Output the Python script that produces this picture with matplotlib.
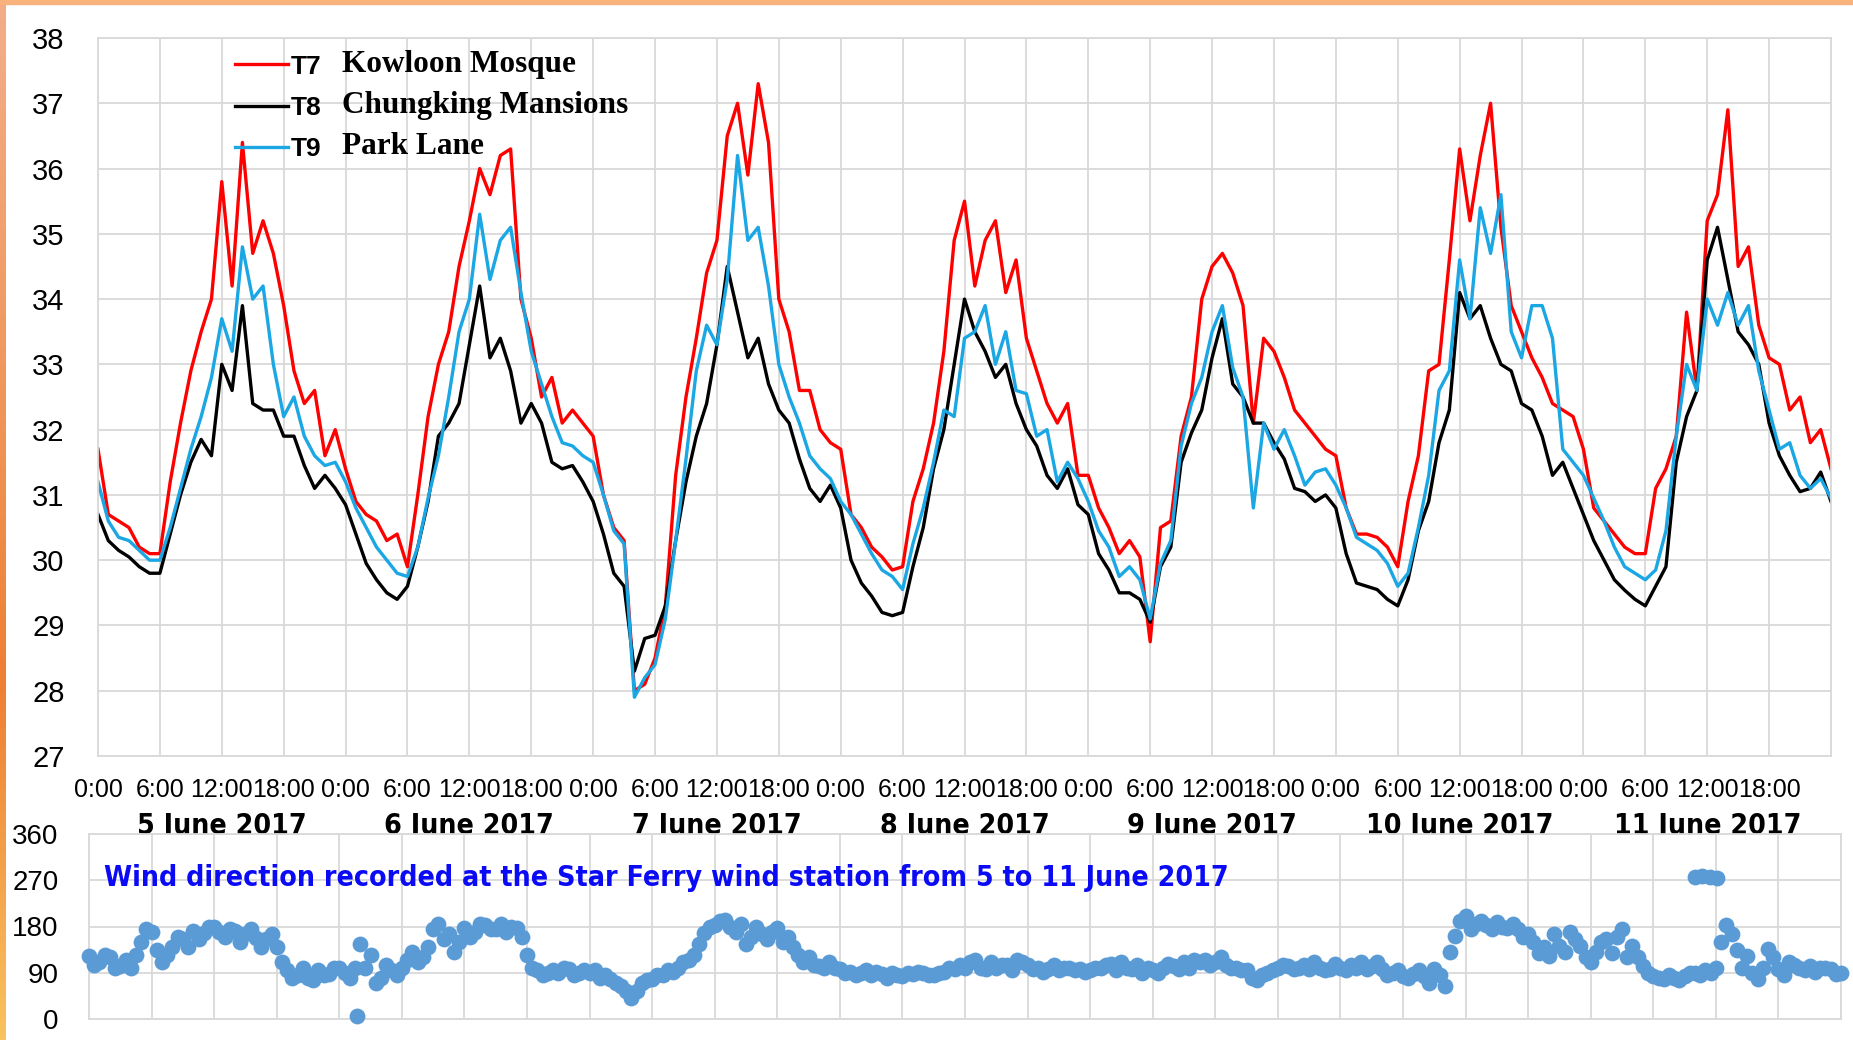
import numpy as np
import matplotlib
matplotlib.use('Agg')
import matplotlib.pyplot as plt
from matplotlib.colors import LinearSegmentedColormap
from matplotlib.transforms import blended_transform_factory

# hourly temperature readings, 5 June 0:00 .. 12 June 0:00
t7 = [31.7, 30.7, 30.6, 30.5, 30.2, 30.1, 30.1, 31.2, 32.1, 32.9, 33.5, 34.0, 35.8, 34.2, 36.4, 34.7, 35.2, 34.7, 33.9, 32.9, 32.4, 32.6, 31.6, 32.0,
      31.4, 30.9, 30.7, 30.6, 30.3, 30.4, 29.9, 31.0, 32.2, 33.0, 33.5, 34.5, 35.2, 36.0, 35.6, 36.2, 36.3, 34.0, 33.4, 32.5, 32.8, 32.1, 32.3, 32.1,
      31.9, 31.0, 30.5, 30.3, 28.0, 28.1, 28.5, 29.3, 31.3, 32.5, 33.4, 34.4, 34.9, 36.5, 37.0, 35.9, 37.3, 36.4, 34.0, 33.5, 32.6, 32.6, 32.0, 31.8,
      31.7, 30.7, 30.5, 30.2, 30.05, 29.85, 29.9, 30.9, 31.4, 32.1, 33.2, 34.9, 35.5, 34.2, 34.9, 35.2, 34.1, 34.6, 33.4, 32.9, 32.4, 32.1, 32.4, 31.3,
      31.3, 30.8, 30.5, 30.1, 30.3, 30.05, 28.75, 30.5, 30.6, 31.9, 32.5, 34.0, 34.5, 34.7, 34.4, 33.9, 32.1, 33.4, 33.2, 32.8, 32.3, 32.1, 31.9, 31.7,
      31.6, 30.8, 30.4, 30.4, 30.35, 30.2, 29.9, 30.9, 31.6, 32.9, 33.0, 34.6, 36.3, 35.2, 36.2, 37.0, 35.1, 33.9, 33.5, 33.1, 32.8, 32.4, 32.3, 32.2,
      31.7, 30.8, 30.6, 30.4, 30.2, 30.1, 30.1, 31.1, 31.4, 31.9, 33.8, 32.6, 35.2, 35.6, 36.9, 34.5, 34.8, 33.6, 33.1, 33.0, 32.3, 32.5, 31.8, 32.0, 31.4]
t8 = [30.7, 30.3, 30.15, 30.05, 29.9, 29.8, 29.8, 30.4, 31.0, 31.5, 31.85, 31.6, 33.0, 32.6, 33.9, 32.4, 32.3, 32.3, 31.9, 31.9, 31.45, 31.1, 31.3, 31.1,
      30.85, 30.4, 29.95, 29.7, 29.5, 29.4, 29.6, 30.2, 30.9, 31.9, 32.1, 32.4, 33.3, 34.2, 33.1, 33.4, 32.9, 32.1, 32.4, 32.1, 31.5, 31.4, 31.45, 31.2,
      30.9, 30.4, 29.8, 29.6, 28.3, 28.8, 28.85, 29.3, 30.3, 31.2, 31.9, 32.4, 33.3, 34.5, 33.8, 33.1, 33.4, 32.7, 32.3, 32.1, 31.55, 31.1, 30.9, 31.15,
      30.8, 30.0, 29.65, 29.45, 29.2, 29.15, 29.2, 29.9, 30.5, 31.4, 32.0, 33.0, 34.0, 33.5, 33.2, 32.8, 33.0, 32.4, 32.0, 31.75, 31.3, 31.1, 31.4, 30.85,
      30.7, 30.1, 29.85, 29.5, 29.5, 29.4, 29.05, 29.9, 30.2, 31.5, 31.95, 32.3, 33.1, 33.7, 32.7, 32.5, 32.1, 32.1, 31.8, 31.55, 31.1, 31.05, 30.9, 31.0,
      30.8, 30.1, 29.65, 29.6, 29.55, 29.4, 29.3, 29.7, 30.45, 30.9, 31.8, 32.3, 34.1, 33.7, 33.9, 33.4, 33.0, 32.9, 32.4, 32.3, 31.9, 31.3, 31.5, 31.1,
      30.7, 30.3, 30.0, 29.7, 29.54, 29.4, 29.3, 29.6, 29.9, 31.5, 32.2, 32.6, 34.6, 35.1, 34.3, 33.5, 33.3, 33.0, 32.1, 31.6, 31.3, 31.05, 31.1, 31.35, 30.9]
t9 = [31.2, 30.6, 30.35, 30.3, 30.15, 30.0, 30.0, 30.5, 31.1, 31.7, 32.2, 32.8, 33.7, 33.2, 34.8, 34.0, 34.2, 33.0, 32.2, 32.5, 31.9, 31.6, 31.45, 31.5,
      31.2, 30.8, 30.5, 30.2, 30.0, 29.8, 29.75, 30.2, 30.95, 31.6, 32.5, 33.5, 34.0, 35.3, 34.3, 34.9, 35.1, 34.1, 33.2, 32.7, 32.2, 31.8, 31.75, 31.6,
      31.5, 31.0, 30.45, 30.25, 27.9, 28.2, 28.4, 29.1, 30.3, 31.55, 32.9, 33.6, 33.3, 34.3, 36.2, 34.9, 35.1, 34.2, 33.0, 32.5, 32.1, 31.6, 31.4, 31.25,
      30.9, 30.7, 30.4, 30.1, 29.85, 29.75, 29.55, 30.25, 30.8, 31.5, 32.3, 32.2, 33.4, 33.5, 33.9, 33.0, 33.5, 32.6, 32.55, 31.9, 32.0, 31.2, 31.5, 31.25,
      30.9, 30.45, 30.2, 29.75, 29.9, 29.7, 29.1, 29.95, 30.3, 31.75, 32.4, 32.8, 33.5, 33.9, 32.95, 32.5, 30.8, 32.1, 31.7, 32.0, 31.6, 31.15, 31.35, 31.4,
      31.15, 30.8, 30.35, 30.25, 30.15, 29.95, 29.6, 29.8, 30.5, 31.3, 32.6, 32.9, 34.6, 33.7, 35.4, 34.7, 35.6, 33.5, 33.1, 33.9, 33.9, 33.4, 31.7, 31.5,
      31.3, 30.95, 30.6, 30.2, 29.9, 29.8, 29.7, 29.85, 30.45, 31.9, 33.0, 32.6, 34.0, 33.6, 34.1, 33.6, 33.9, 32.9, 32.3, 31.7, 31.8, 31.3, 31.1, 31.25, 30.95]

# wind direction (degrees) at Star Ferry, on the hour
wind = [123, 110, 120, 103, 100, 150, 170, 110, 140, 155, 172, 168, 180, 160, 172, 165, 158, 155, 140, 95, 85, 80, 95, 88,
        100, 80, 145, 125, 80, 95, 100, 130, 120, 175, 155, 130, 178, 170, 182, 175, 170, 178, 125, 95, 90, 90, 97, 90,
        90, 80, 77, 65, 40, 70, 77, 85, 92, 110, 125, 168, 182, 192, 170, 145, 180, 155, 178, 160, 125, 120, 103, 110,
        97, 92, 90, 85, 88, 90, 84, 88, 90, 85, 92, 97, 100, 115, 97, 100, 105, 115, 105, 100, 97, 95, 100, 97,
        95, 100, 108, 110, 97, 90, 95, 100, 103, 110, 115, 115, 110, 105, 100, 95, 75, 90, 100, 103, 100, 97, 100, 97,
        100, 105, 110, 103, 97, 90, 84, 88, 84, 97, 65, 162, 200, 185, 182, 188, 178, 175, 165, 129, 123, 142, 169, 142,
        110, 149, 129, 175, 142, 103, 84, 77, 80, 84, 90, 95, 100, 182, 135, 123, 77, 136, 97, 110, 100, 103, 100, 97, 90]
# readings at half past the hour
wind_half = [105, 125, 100, 115, 125, 175, 135, 125, 160, 140, 155, 180, 170, 175, 150, 175, 140, 165, 110, 80, 100, 75, 85, 100,
             90, 100, 100, 70, 105, 85, 115, 110, 140, 185, 165, 150, 160, 185, 175, 185, 180, 160, 100, 85, 95, 100, 85, 95,
             95, 85, 70, 55, 55, 75, 85, 95, 100, 115, 145, 180, 190, 180, 185, 160, 165, 170, 150, 140, 110, 105, 100, 100,
             90, 85, 95, 92, 80, 85, 90, 92, 85, 90, 100, 105, 110, 100, 110, 105, 95, 110, 98, 92, 105, 100, 95, 92,
             100, 105, 95, 100, 105, 100, 90, 108, 97, 100, 110, 105, 120, 100, 95, 80, 85, 95, 105, 97, 105, 110, 95, 108,
             95, 100, 97, 110, 85, 95, 80, 95, 70, 85, 130, 190, 175, 190, 175, 180, 185, 160, 150, 140, 165, 130, 155, 120,
             130, 155, 160, 120, 120, 90, 80, 85, 75, 90, 85, 90, 150, 165, 100, 90, 100, 120, 85, 105, 95, 92, 100, 88]
# off-band readings
extra_hours = [25.7, 154.0, 154.7, 155.4, 156.1]
extra_wind = [5, 276, 278, 276, 275]

days = ['5 June 2017', '6 June 2017', '7 June 2017', '8 June 2017',
        '9 June 2017', '10 June 2017', '11 June 2017']
hour_labels = ['0:00', '6:00', '12:00', '18:00']
series_codes = ['T7', 'T8', 'T9']
station_names = ['Kowloon Mosque', 'Chungking Mansions', 'Park Lane']
wind_ticks = [0, 90, 180, 270, 360]
wind_title = 'Wind direction recorded at the Star Ferry wind station from 5 to 11 June 2017'

plt.rcParams['font.family'] = ['Liberation Sans', 'DejaVu Sans']
narrow = ['Liberation Sans Narrow', 'DejaVu Sans']
grid_c = '#D9D9D9'
dot_c = '#5B9BD5'

fig = plt.figure(figsize=(18.53, 10.40), dpi=100)

# --- temperature panel
ax = fig.add_axes([98 / 1853, 1 - 756 / 1040, 1733 / 1853, 718 / 1040])
l7, = ax.plot(np.arange(len(t7)), t7, color='#FF0000', lw=2.4)
l8, = ax.plot(np.arange(len(t8)), t8, color='black', lw=2.4)
l9, = ax.plot(np.arange(len(t9)), t9, color='#1BA6E4', lw=2.4)
ax.set_xlim(0, 168)
ax.set_ylim(27, 38)
ax.set_yticks(range(27, 39))
ticks = list(range(0, 169, 6))
ax.set_xticks(ticks)
ax.set_xticklabels([hour_labels[(t // 6) % 4] if t < 168 else '' for t in ticks])
ax.grid(True, color=grid_c, lw=1.3)
ax.set_axisbelow(True)
for s in ax.spines.values():
    s.set_color(grid_c)
    s.set_linewidth(1.3)
ax.tick_params(axis='x', length=0, pad=16, labelsize=18)
ax.tick_params(axis='y', length=0, pad=24, labelsize=21)

trans = blended_transform_factory(ax.transData, ax.transAxes)
day_texts = []
for i, d in enumerate(days):
    day_texts.append(ax.text(24 * i + 12, -0.097, d, transform=trans, ha='center', va='center',
                             fontsize=25, fontweight='bold', family=narrow, fontstretch='condensed'))

leg = ax.legend(handles=[l7, l8, l9], labels=series_codes, loc='upper left',
                bbox_to_anchor=(0.079, 0.977), frameon=False, borderpad=0, borderaxespad=0,
                handlelength=2.0, handletextpad=0.1, labelspacing=0.66,
                prop=dict(family='Liberation Sans', weight='bold', size=19))
for txt, name in zip(leg.get_texts(), station_names):
    ax.annotate(name, xy=(1, 0), xycoords=txt, xytext=(15, 0), textcoords='offset points',
                ha='left', va='bottom', fontsize=22.5, fontweight='bold', family='Liberation Serif')

# --- wind panel
ax2 = fig.add_axes([89 / 1853, 1 - 1019 / 1040, 1752 / 1853, 185 / 1040])
ax2.scatter(np.arange(len(wind)), wind, s=130, color=dot_c, linewidths=0, zorder=3, clip_on=False)
ax2.scatter(np.arange(len(wind_half)) + 0.5, wind_half, s=130, color=dot_c, linewidths=0, zorder=3, clip_on=False)
ax2.scatter(extra_hours, extra_wind, s=130, color=dot_c, linewidths=0, zorder=3, clip_on=False)
ax2.set_xlim(0, 168)
ax2.set_ylim(0, 360)
ax2.set_yticks(wind_ticks)
ax2.set_xticks(ticks)
ax2.set_xticklabels([])
ax2.grid(True, color=grid_c, lw=1.3)
ax2.set_axisbelow(True)
for s in ax2.spines.values():
    s.set_color(grid_c)
    s.set_linewidth(1.3)
ax2.tick_params(axis='both', length=0)
ax2.tick_params(axis='y', pad=22, labelsize=20)
wt = ax2.text(15 / 1752, 0.76, wind_title, transform=ax2.transAxes, ha='left', va='center',
              color='#0A0AF5', fontsize=22, fontweight='bold', family=narrow, fontstretch='condensed')

# fit the condensed labels to the widths in the original
fig.canvas.draw()
r = fig.canvas.get_renderer()
w = wt.get_window_extent(r).width
wt.set_fontsize(wt.get_fontsize() * 1121 / w)
w = day_texts[0].get_window_extent(r).width
fs = day_texts[0].get_fontsize() * 170 / w
for t in day_texts:
    t.set_fontsize(fs)

# orange frame edges
fig.patches.append(plt.Rectangle((0, 1 - 4 / 1040), 1, 4 / 1040, transform=fig.transFigure,
                                 color='#F8B27C', zorder=10))
edge = fig.add_axes([0, 0, 6 / 1853, 1])
cmap = LinearSegmentedColormap.from_list('edge', [(0, '#F3AE88'), (0.4, '#F09558'),
                                                  (0.66, '#EE7F33'), (1, '#F9C25E')])
edge.imshow(np.linspace(0, 1, 200).reshape(-1, 1), aspect='auto', cmap=cmap)
edge.axis('off')

fig.savefig('out.png', dpi=100)
